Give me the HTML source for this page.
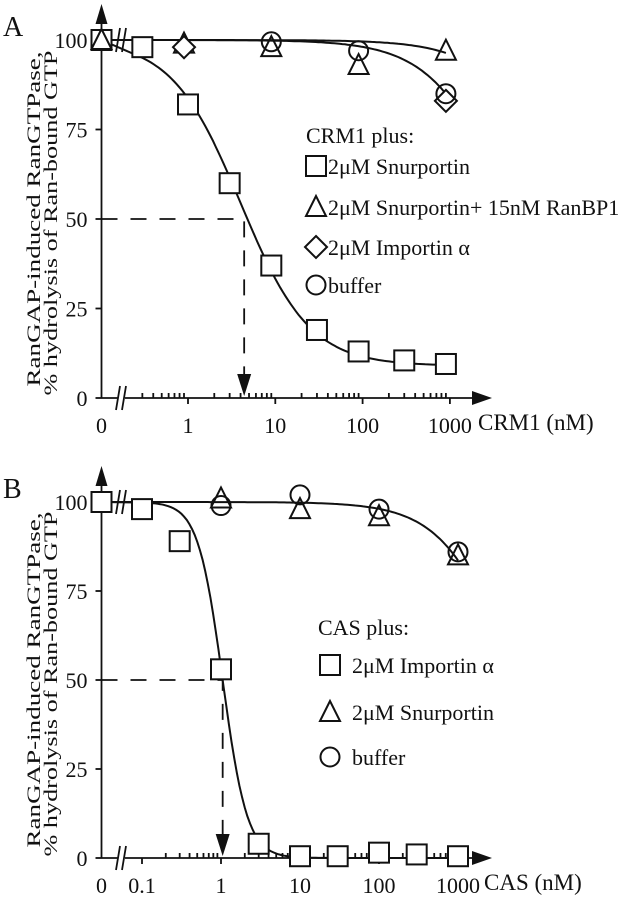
<!DOCTYPE html>
<html><head><meta charset="utf-8"><style>
body{margin:0;background:#fff}
svg{display:block;font-family:"Liberation Serif",serif}
</style></head><body>
<svg id="fig" width="624" height="899" viewBox="0 0 624 899"></svg>
<script>
// ---- Panel A data ----
const aSnurX=[0,0.3,1,3,9,30,90,300,900];
const aSnurY=[100,98,82,60,37,19,13,10.5,9.5];
const aTriX=[0,0.9,9,90,900];
const aTriY=[100,99,98,93,97];
const aDiaX=[0.9,900];
const aDiaY=[98,83];
const aCirX=[9,90,900];
const aCirY=[99.5,97,85];
const aXTicks=[1,10,100,1000];
const yTicks=[0,25,50,75,100];
const aIC50=4.4;
// ---- Panel B data ----
const bImpX=[0,0.1,0.3,1,3,10,30,100,300,1000];
const bImpY=[100,98,89,53,4,0.5,0.5,1.5,1,0.5];
const bTriX=[1,10,100,1000];
const bTriY=[101,98,96,85];
const bCirX=[1,10,100,1000];
const bCirY=[99,102,98,86];
const bXTicks=[0.1,1,10,100,1000];
const bIC50=1.05;

const NS="http://www.w3.org/2000/svg";
const svg=document.getElementById('fig');
const FS=22;
function mk(t,a,p){const e=document.createElementNS(NS,t);for(const k in a)e.setAttribute(k,a[k]);(p||svg).appendChild(e);return e;}
function txt(s,x,y,sz,anchor,p){const e=mk('text',{x:x,y:y,'font-size':sz,'text-anchor':anchor||'start',fill:'#111'},p);e.textContent=s;return e;}

function panel(cfg){
  const g=mk('g',{});
  
  
  const X=c=> c===0?cfg.x0:cfg.x1+cfg.dec*Math.log10(c);
  const Y=v=> cfg.y0-(cfg.y0-cfg.y100)*v/100;
  const ax=mk('g',{stroke:'#111','stroke-width':1.8,fill:'none'},g);
  
  
  mk('line',{x1:cfg.x0,y1:Y(0),x2:cfg.x0,y2:cfg.y100-20},ax);
  mk('polygon',{points:`${cfg.x0-6},${cfg.y100-16} ${cfg.x0+6},${cfg.y100-16} ${cfg.x0},${cfg.y100-36}`,fill:'#111',stroke:'none'},ax);
  mk('line',{x1:cfg.x0,y1:Y(0),x2:cfg.xEnd-14,y2:Y(0)},ax);
  mk('polygon',{points:`${cfg.xEnd-20},${Y(0)-7} ${cfg.xEnd-20},${Y(0)+7} ${cfg.xEnd},${Y(0)}`,fill:'#111',stroke:'none'},ax);
  [Y(0),Y(100)].forEach(yy=>{
    mk('rect',{x:cfg.brk-3,y:yy-10,width:7,height:20,fill:'#fff',stroke:'none'},ax);
    mk('line',{x1:cfg.brk-5,y1:yy+12,x2:cfg.brk-1,y2:yy-12},ax);
    mk('line',{x1:cfg.brk+1,y1:yy+12,x2:cfg.brk+5,y2:yy-12},ax);
  });
  yTicks.forEach(v=>{
    mk('line',{x1:cfg.x0-6,y1:Y(v),x2:cfg.x0,y2:Y(v)},ax);
    const t=txt(String(v),cfg.x0-14,Y(v)+8,FS,'end',g);
    
    
  });
  const t0=txt('0',cfg.x0,Y(0)+35,FS,'middle',g);
  
  
  cfg.ticks.forEach(c=>{
    mk('line',{x1:X(c),y1:Y(0),x2:X(c),y2:Y(0)+6},ax);
    const t=txt(String(c),X(c),Y(0)+35,FS,'middle',g);
    
    
  });
  for(let d=cfg.minDec;d<3;d++){for(let m=2;m<=9;m++){const c=m*Math.pow(10,d);const xx=X(c);if(xx>cfg.brk+8)mk('line',{x1:xx,y1:Y(0)-5,x2:xx,y2:Y(0)},ax);}}
  const xt=txt(cfg.xTitle,cfg.xTitleX,Y(0)+32,FS+1,'start',g);
  
  
  const cy=(Y(0)+Y(100))/2;
  const yt1=mk('text',{transform:`translate(40,${cy}) rotate(-90)`,x:0,y:0,'font-size':19,'text-anchor':'middle',fill:'#111',textLength:335,lengthAdjust:'spacingAndGlyphs'},g);
  yt1.textContent='RanGAP-induced RanGTPase,';
  
  
  const yt2=mk('text',{transform:`translate(57,${cy+4}) rotate(-90)`,x:0,y:0,'font-size':19,'text-anchor':'middle',fill:'#111',textLength:345,lengthAdjust:'spacingAndGlyphs'},g);
  yt2.textContent='% hydrolysis of Ran-bound GTP';
  
  
  const L=txt(cfg.letter,3,cfg.y100-4,28,'start',g);
  
  
  const ds=mk('path',{d:`M${cfg.x0},${Y(50)} H${X(cfg.ic)} V${Y(0)-20}`,stroke:'#111','stroke-width':1.8,fill:'none','stroke-dasharray':'16,13'},g);
  
  
  const ar=mk('polygon',{points:`${X(cfg.ic)-7},${Y(0)-24} ${X(cfg.ic)+7},${Y(0)-24} ${X(cfg.ic)},${Y(0)-2}`,fill:'#111'},g);
  
  
  cfg.curves.forEach(cv=>{
    let d='';
    for(let i=0;i<=120;i++){const lc=Math.log10(cv.from)+(Math.log10(cv.to)-Math.log10(cv.from))*i/120;const c=Math.pow(10,lc);
      const v=cv.bot+(100-cv.bot)/(1+Math.pow(c/cv.ic,cv.h));d+=(i?'L':'M')+X(c).toFixed(1)+','+Y(v).toFixed(1);}
    if(cv.lead)d='M'+X(0)+','+Y(100)+'L'+d.slice(1);
    const p=mk('path',{d:d,stroke:'#111','stroke-width':2,fill:'none'},g);
    
    
  });
  const sz=10;
  function marker(type,x,y,p){
    if(type==='sq')return mk('rect',{x:x-sz,y:y-sz,width:2*sz,height:2*sz,fill:'#fff',stroke:'#111','stroke-width':2},p);
    if(type==='tri')return mk('polygon',{points:`${x},${y-11} ${x-10},${y+9} ${x+10},${y+9}`,fill:'none',stroke:'#111','stroke-width':2},p);
    if(type==='dia')return mk('polygon',{points:`${x},${y-11} ${x+11},${y} ${x},${y+11} ${x-11},${y}`,fill:'#fff',stroke:'#111','stroke-width':2},p);
    return mk('circle',{cx:x,cy:y,r:9.5,fill:'none',stroke:'#111','stroke-width':2},p);
  }
  cfg.series.forEach(s=>{
    s.xs.forEach((c,i)=>{const m=marker(s.type,X(c),Y(s.ys[i]),g);
      
      });
  });
  const lt=txt(cfg.legTitle,cfg.legX,cfg.legY,FS,'start',g);
  
  
  cfg.leg.forEach((e,i)=>{
    const yy=cfg.legYs[i];
    const m=marker(e.type,cfg.legMX,yy,g);
    
    
    const t=txt(e.label,cfg.legTX,yy+8,FS,'start',g);
    
    
  });
}

panel({name:'panel-a',letter:'A',x0:101.5,x1:188,dec:87.3,y0:398,y100:40,xEnd:492,brk:121,minDec:-1,
  ticks:aXTicks,xTitle:'CRM1 (nM)',xTitleX:478,ic:aIC50,
  curves:[{from:0.25,to:900,bot:9,ic:4,h:1.1,lead:true},{from:0.2,to:900,bot:0,ic:5100,h:1,lead:true},{from:0.2,to:900,bot:0,ic:24000,h:1,lead:true}],
  series:[{type:'sq',xs:aSnurX,ys:aSnurY,name:'snurportin'},{type:'tri',xs:aTriX,ys:aTriY,name:'snurportin-ranbp1'},{type:'dia',xs:aDiaX,ys:aDiaY,name:'importin'},{type:'cir',xs:aCirX,ys:aCirY,name:'buffer'}],
  legTitle:'CRM1 plus:',legX:306,legY:143,legYs:[166,207,247,285],legMX:316,legTX:328,
  leg:[{type:'sq',label:'2μM Snurportin'},{type:'tri',label:'2μM Snurportin+ 15nM RanBP1'},{type:'dia',label:'2μM Importin α'},{type:'cir',label:'buffer'}]});

panel({name:'panel-b',letter:'B',x0:101.5,x1:221,dec:79,y0:858,y100:502,xEnd:492,brk:121,minDec:-1,
  ticks:bXTicks,xTitle:'CAS (nM)',xTitleX:484,ic:bIC50,
  curves:[{from:0.1,to:1000,bot:0,ic:bIC50,h:2.8,lead:true},{from:0.1,to:1000,bot:0,ic:5100,h:1,lead:true}],
  series:[{type:'sq',xs:bImpX,ys:bImpY,name:'importin'},{type:'tri',xs:bTriX,ys:bTriY,name:'snurportin'},{type:'cir',xs:bCirX,ys:bCirY,name:'buffer'}],
  legTitle:'CAS plus:',legX:318,legY:635,legYs:[665,712,757],legMX:330,legTX:352,
  leg:[{type:'sq',label:'2μM Importin α'},{type:'tri',label:'2μM Snurportin'},{type:'cir',label:'buffer'}]});
</script>
</body></html>
